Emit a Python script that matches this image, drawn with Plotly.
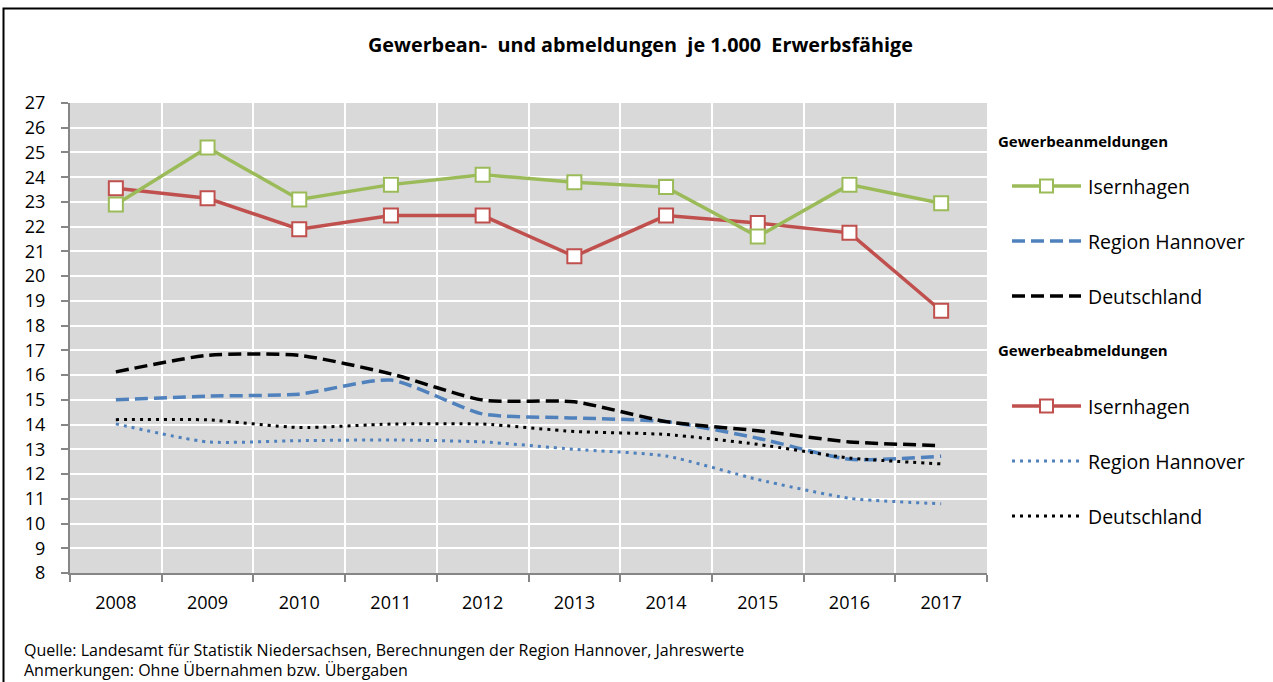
import plotly.graph_objects as go

years = ["2008", "2009", "2010", "2011", "2012", "2013", "2014", "2015", "2016", "2017"]

anm_isernhagen = [22.9, 25.2, 23.1, 23.7, 24.1, 23.8, 23.6, 21.6, 23.7, 22.95]
anm_region = [15.0, 15.15, 15.23, 15.8, 14.43, 14.27, 14.12, 13.45, 12.6, 12.72]
anm_deutschland = [16.13, 16.8, 16.8, 16.05, 14.99, 14.92, 14.12, 13.75, 13.3, 13.15]

abm_isernhagen = [23.55, 23.15, 21.9, 22.45, 22.45, 20.8, 22.45, 22.15, 21.75, 18.6]
abm_region = [14.03, 13.3, 13.35, 13.38, 13.3, 13.0, 12.73, 11.78, 11.02, 10.8]
abm_deutschland = [14.2, 14.19, 13.88, 14.02, 14.02, 13.72, 13.6, 13.2, 12.65, 12.41]

y_ticks = list(range(8, 28))

GREEN = "#9BBB59"
RED = "#C0504D"
BLUE = "#4F81BD"
BLACK = "#000000"
FONT = "Open Sans"

W, H = 1273, 682
L, R, T, B = 70, 286, 103, 109
PW, PH = W - L - R, H - T - B

DASH = "13px,6px"
DOT = "3px,5px"
SMOOTH = 0.6


def px(x):
    return (x - L) / PW


def py(y):
    return (H - B - y) / PH


fig = go.Figure()

fig.add_trace(go.Scatter(x=years, y=anm_region, mode="lines", name="Region Hannover",
                         line=dict(color=BLUE, width=3.5, dash=DASH, shape="spline", smoothing=SMOOTH)))
fig.add_trace(go.Scatter(x=years, y=anm_deutschland, mode="lines", name="Deutschland",
                         line=dict(color=BLACK, width=3.5, dash=DASH, shape="spline", smoothing=SMOOTH)))
fig.add_trace(go.Scatter(x=years, y=abm_region, mode="lines", name="Region Hannover",
                         line=dict(color=BLUE, width=3, dash=DOT, shape="spline", smoothing=SMOOTH)))
fig.add_trace(go.Scatter(x=years, y=abm_deutschland, mode="lines", name="Deutschland",
                         line=dict(color=BLACK, width=3, dash=DOT, shape="spline", smoothing=SMOOTH)))
fig.add_trace(go.Scatter(x=years, y=abm_isernhagen, mode="lines+markers", name="Isernhagen",
                         line=dict(color=RED, width=3.5),
                         marker=dict(symbol="square", size=14, color="white",
                                     line=dict(color=RED, width=2))))
fig.add_trace(go.Scatter(x=years, y=anm_isernhagen, mode="lines+markers", name="Isernhagen",
                         line=dict(color=GREEN, width=3.5),
                         marker=dict(symbol="square", size=14, color="white",
                                     line=dict(color=GREEN, width=2))))

shapes = []
annotations = []

# outer border
shapes.append(dict(type="rect", xref="paper", yref="paper",
                   x0=px(3.5), x1=px(1300), y0=py(720), y1=py(8.5),
                   line=dict(color="black", width=2), fillcolor="rgba(0,0,0,0)", layer="above"))

# title
annotations.append(dict(text="<b>Gewerbean-  und abmeldungen  je 1.000  Erwerbsfähige</b>",
                        xref="paper", yref="paper", x=px(640), y=py(45),
                        xanchor="center", yanchor="middle", showarrow=False,
                        font=dict(family=FONT, size=19.8, color="black")))

# manual legend
legend_groups = [
    ("Gewerbeanmeldungen", 141, [
        ("Isernhagen", 186, GREEN, "solid", 3.5, True),
        ("Region Hannover", 241, BLUE, DASH, 3.5, False),
        ("Deutschland", 296, BLACK, DASH, 3.5, False),
    ]),
    ("Gewerbeabmeldungen", 350, [
        ("Isernhagen", 406, RED, "solid", 3.5, True),
        ("Region Hannover", 461, BLUE, DOT, 3, False),
        ("Deutschland", 516, BLACK, DOT, 3, False),
    ]),
]
for gtitle, gy, items in legend_groups:
    annotations.append(dict(text="<b>" + gtitle + "</b>", xref="paper", yref="paper",
                            x=px(996), y=py(gy), xanchor="left", yanchor="middle",
                            showarrow=False, font=dict(family=FONT, size=15, color="black")))
    for name, iy, col, dash, w, marker in items:
        shapes.append(dict(type="line", xref="paper", yref="paper",
                           x0=px(1012), x1=px(1081), y0=py(iy), y1=py(iy),
                           line=dict(color=col, width=w, dash=dash)))
        if marker:
            shapes.append(dict(type="rect", xref="paper", yref="paper",
                               x0=px(1040), x1=px(1053), y0=py(iy + 6.5), y1=py(iy - 6.5),
                               fillcolor="white", line=dict(color=col, width=2)))
        annotations.append(dict(text=name, xref="paper", yref="paper",
                                x=px(1086), y=py(iy), xanchor="left", yanchor="middle",
                                showarrow=False, font=dict(family=FONT, size=19.5, color="black")))

# source notes
annotations.append(dict(text="Quelle: Landesamt für Statistik Niedersachsen, Berechnungen der Region Hannover, Jahreswerte",
                        xref="paper", yref="paper", x=px(22), y=py(650), xanchor="left", yanchor="middle",
                        showarrow=False, font=dict(family=FONT, size=16, color="black")))
annotations.append(dict(text="Anmerkungen: Ohne Übernahmen bzw. Übergaben",
                        xref="paper", yref="paper", x=px(22), y=py(670), xanchor="left", yanchor="middle",
                        showarrow=False, font=dict(family=FONT, size=16, color="black")))

fig.update_layout(
    width=W, height=H,
    margin=dict(l=L, r=R, t=T, b=B, pad=0),
    paper_bgcolor="white",
    plot_bgcolor="#D9D9D9",
    showlegend=False,
    font=dict(family=FONT, size=18, color="black"),
    shapes=shapes,
    annotations=annotations,
    xaxis=dict(type="category", categoryorder="array", categoryarray=years,
               tickson="boundaries", showgrid=True, gridcolor="white", gridwidth=2,
               ticks="outside", ticklen=7, tickcolor="#868686", tickwidth=2,
               showline=True, linecolor="#868686", linewidth=2,
               tickfont=dict(family=FONT, size=18, color="black"),
               ticklabelstandoff=12, zeroline=False, range=[-0.5, 9.5]),
    yaxis=dict(range=[8, 27], tickvals=y_ticks, showgrid=True, gridcolor="white", gridwidth=2,
               ticks="outside", ticklen=7, tickcolor="#868686", tickwidth=2,
               showline=True, linecolor="#868686", linewidth=2,
               tickfont=dict(family=FONT, size=18, color="black"),
               ticklabelstandoff=12, zeroline=False),
)

fig.write_html("out.html",
               config={"displayModeBar": False},
               post_script="document.body.style.margin='0';document.body.style.overflow='hidden';")
